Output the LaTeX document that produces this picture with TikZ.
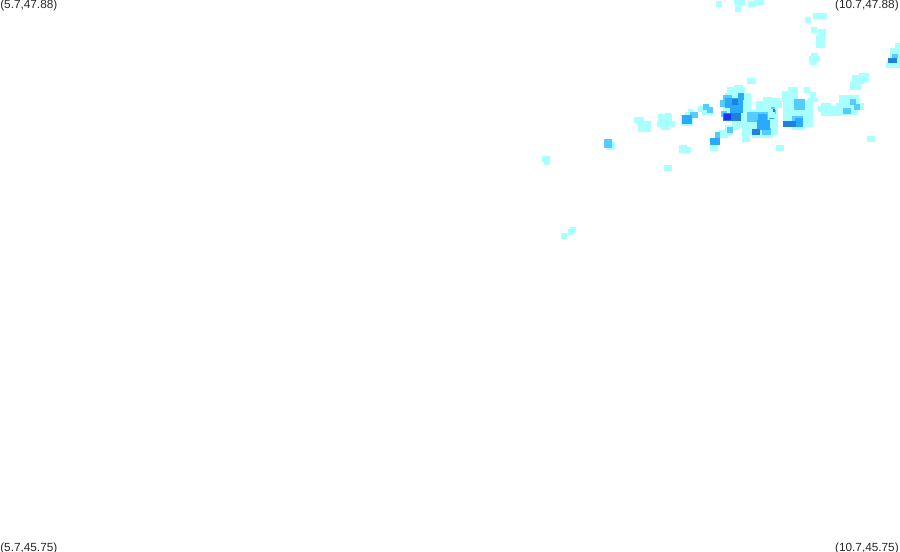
\documentclass[tikz,border=0pt]{standalone}
\usepackage{fontspec}
\setmainfont{Liberation Sans}
\definecolor{palecell}{HTML}{AAFFFF}
\definecolor{lightcell}{HTML}{55CCFF}
\definecolor{midcell}{HTML}{2AAAFF}
\definecolor{darkcell}{HTML}{2080E0}
\definecolor{deepcell}{HTML}{2030FF}
\tikzset{
  corner/.style={inner sep=0pt,font=\fontsize{8.85}{10}\selectfont,text=black!85}
}
\newcommand{\cells}[2]{\foreach \xa/\ya/\xb/\yb in {#2} \fill[#1] (\xa,\ya) rectangle (\xb,\yb);}
\begin{document}
\begin{tikzpicture}[x=0.75pt,y=-0.75pt]
  \useasboundingbox (0,0) rectangle (900,552);

  %corner labels
  \node[corner,anchor=base west] (nw) at (0,9) {(5.7,47.88)};
  \node[corner,anchor=base east] (ne) at (899,9) {(10.7,47.88)};
  \node[corner,anchor=base west] (sw) at (0,551) {(5.7,45.75)};
  \node[corner,anchor=base east] (se) at (899,551) {(10.7,45.75)};

  %pale cells, top
  \cells{palecell}{716/1/722/7, 734/0/745/5, 735/6/741/12, 748/1/756/7, 754/0/764/5,
    805/17/811/23, 813/13/827/19, 811/27/817/33, 818/29/826/36, 816/36/825/48,
    811/53/818/56, 809/56/820/62, 810/62/817/65, 890/48/900/68, 895/43/900/50, 886/62/893/68,
    859/73/869/82, 852/75/865/84, 850/82/861/90}
  %pale cells, scattered on the left
  \cells{palecell}{542/156/550/162, 544/161/550/165, 607/142/615/150, 634/117/644/123,
    638/121/651/132, 658/114/672/124, 665/113/671/115, 657/121/675/127, 661/127/670/130,
    664/165/672/171, 679/145/687/153, 687/147/691/153,
    561/233/567/239, 568/229/574/235, 570/227/576/233,
    688/109/694/112, 685/112/690/115, 681/115/693/126, 698/106/710/112, 702/112/713/115,
    710/145/718/151}
  %pale cells, main cluster
  \cells{palecell}{747/78/756/84, 734/85/743/88, 727/87/745/93, 725/93/751/101,
    723/101/751/117, 723/117/747/120, 732/120/747/127, 725/125/740/130, 719/130/733/135,
    715/133/728/138, 742/127/750/142, 747/110/778/135, 752/135/773/138, 756/101/782/108,
    756/108/778/110, 763/97/772/101, 772/98/780/102, 782/91/798/102, 788/87/798/92,
    783/100/813/127, 792/127/805/130, 804/87/810/93, 810/92/816/98, 808/98/818/102,
    839/95/859/103, 836/103/864/110, 841/110/858/115, 818/106/842/112, 821/103/831/106,
    821/112/841/116, 867/136/875/142, 776/145/784/151}

  %light cells
  \cells{lightcell}{604/139/612/148, 690/112/698/118, 703/104/709/110, 707/107/713/113,
    723/95/732/100, 720/100/725/107, 721/111/727/117, 727/127/733/133, 715/132/720/138,
    747/112/768/122, 762/128/771/135, 794/99/805/110, 792/116/803/127,
    850/99/856/105, 854/104/860/110, 843/108/851/114, 892/54/898/58, 775/110/776/114,
    771/107/775/109}

  %mid cells
  \cells{midcell}{682/115/692/124, 725/98/743/108, 738/93/744/100, 730/105/743/113,
    710/138/720/145, 758/114/767/125, 757/120/770/130, 795/118/803/127, 769/118/774/119}

  %dark cells
  \cells{darkcell}{732/99/738/105, 723/113/741/121, 752/129/760/135,
    783/121/796/127, 888/58/897/63, 773/109/775/112}
  \cells{deepcell}{724/114/731/120}
\end{tikzpicture}
\end{document}
